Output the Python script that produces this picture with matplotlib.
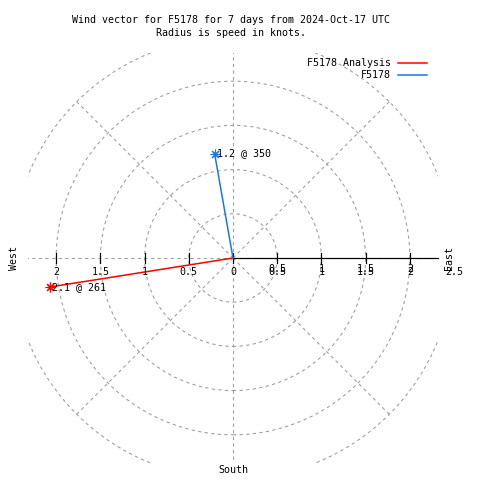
"""Wind vector chart in the style of a gnuplot polar plot."""

import matplotlib

matplotlib.use("Agg")
import matplotlib.pyplot as plt
import numpy as np
from matplotlib.lines import Line2D
from matplotlib.patches import Circle, Rectangle

# data
names = ["F5178 Analysis", "F5178"]
speeds = [2.1, 1.2]  # knots
directions = [261, 350]  # compass degrees
colors = ["#ff0000", "#1a78e6"]

ring_radii = [0.5, 1.0, 1.5, 2.0, 2.5]
spoke_angles = [0, 45, 90, 135, 180, 225, 270, 315]
right_ticks = [0, 0.5, 1, 1.5, 2]
right_labels = ["0", "0.5", "1", "1.5", "2"]
left_ticks = [0.5, 1, 1.5, 2]
left_labels = ["0.5", "1", "1.5", "2"]

title = "Wind vector for F5178 for 7 days from 2024-Oct-17 UTC\nRadius is speed in knots."

# layout (pixels of a 480x480 image)
W = H = 480
cx, cy = 233, 258
scale = 88.4  # px per knot
lim = 2.32  # clip box half width, knots
font = "DejaVu Sans Mono"
fs = 7.2
grey = "#a0a0a0"
px = 72 / 100  # one pixel in points

fig = plt.figure(figsize=(W / 100, H / 100), dpi=100)
ax = fig.add_axes((0, 0, 1, 1))
ax.set_xlim(-cx / scale, (W - cx) / scale)
ax.set_ylim(-(H - cy) / scale, cy / scale)
ax.set_axis_off()

clip = Rectangle((-lim, -lim), 2 * lim, 2 * lim, transform=ax.transData)

dash = (0, (3, 3))
for r in ring_radii:
    c = Circle((0, 0), r, fill=False, ec=grey, lw=1.1 * px, ls=dash)
    ax.add_patch(c)
    c.set_clip_path(clip)

for a in spoke_angles:
    t = np.deg2rad(a)
    (ln,) = ax.plot(
        [0, 2.5 * np.sin(t)], [0, 2.5 * np.cos(t)], color=grey, lw=1.1 * px, ls=dash
    )
    ln.set_clip_path(clip)

# east axis
ax.plot([0, lim], [0, 0], color="k", lw=1.2 * px)
tick_h = 0.055
for x in right_ticks + [-v for v in left_ticks]:
    ax.plot([x, x], [-tick_h, tick_h], color="k", lw=1.2 * px)

ly = -(272 - cy) / scale
for x, lab in zip(right_ticks + [2.5], right_labels + ["2.5"]):
    ax.text(x, ly, lab, ha="center", va="center", family=font, size=fs)
# gnuplot prints the rtics a second time, a few pixels higher
for x, lab in zip(right_ticks[1:], right_labels[1:]):
    ax.text(x, ly + 3 / scale, lab, ha="center", va="center", family=font, size=fs)
for x, lab in zip(left_ticks, left_labels):
    ax.text(-x, ly, lab, ha="center", va="center", family=font, size=fs)

# compass labels
ax.text(-(cx - 14) / scale, 0, "West", rotation=90, ha="center", va="center",
        family=font, size=fs)
ax.text((449 - cx) / scale, 0, "East", rotation=90, ha="center", va="center",
        family=font, size=fs)
ax.text(0, -(470 - cy) / scale, "South", ha="center", va="center",
        family=font, size=fs)

# wind vectors
for name, spd, d, col in zip(names, speeds, directions, colors):
    t = np.deg2rad(d)
    x, y = spd * np.sin(t), spd * np.cos(t)
    ax.plot([0, x], [0, y], color=col, lw=1.1)
    ax.plot(x, y, marker=(8, 2, 0), ms=7, mew=0.8, color=col)
    ax.annotate(f"{spd:.1f} @ {d}", xy=(x, y), xytext=(1.5, 0),
                textcoords="offset points", ha="left", va="center",
                family=font, size=fs)

# legend
for i, (name, col) in enumerate(zip(names, colors)):
    yy = 1 - (63 + 12 * i) / H
    fig.text(391 / W, yy, name, ha="right", va="center", family=font, size=fs)
    fig.add_artist(Line2D([398 / W, 427 / W], [yy, yy], color=col, lw=1.1))

fig.text(231 / W, 1 - 26.5 / H, title, ha="center", va="center", family=font,
         size=fs, linespacing=1.35)

fig.savefig("out.png", dpi=100)
